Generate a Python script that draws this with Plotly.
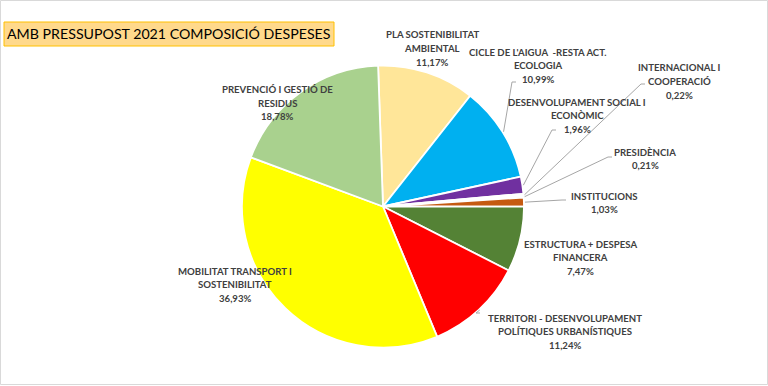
import math
import plotly.graph_objects as go

# ---- data ----
categories = [
    "PLA SOSTENIBILITAT AMBIENTAL",
    "CICLE DE L'AIGUA  -RESTA ACT. ECOLOGIA",
    "DESENVOLUPAMENT SOCIAL I ECONÒMIC",
    "INTERNACIONAL I COOPERACIÓ",
    "PRESIDÈNCIA",
    "INSTITUCIONS",
    "ESTRUCTURA + DESPESA FINANCERA",
    "TERRITORI - DESENVOLUPAMENT POLÍTIQUES URBANÍSTIQUES",
    "MOBILITAT TRANSPORT I SOSTENIBILITAT",
    "PREVENCIÓ I GESTIÓ DE RESIDUS",
]
label_lines = [
    ["PLA SOSTENIBILITAT", "AMBIENTAL"],
    ["CICLE DE L'AIGUA  -RESTA ACT.", "ECOLOGIA"],
    ["DESENVOLUPAMENT SOCIAL I", "ECONÒMIC"],
    ["INTERNACIONAL I", "COOPERACIÓ"],
    ["PRESIDÈNCIA"],
    ["INSTITUCIONS"],
    ["ESTRUCTURA + DESPESA", "FINANCERA"],
    ["TERRITORI - DESENVOLUPAMENT", "POLÍTIQUES URBANÍSTIQUES"],
    ["MOBILITAT TRANSPORT I", "SOSTENIBILITAT"],
    ["PREVENCIÓ I GESTIÓ DE", "RESIDUS"],
]
values = [11.17, 10.99, 1.96, 0.22, 0.21, 1.03, 7.47, 11.24, 36.93, 18.78]
title_text = "AMB PRESSUPOST 2021 COMPOSICIÓ DESPESES"

# ---- style / layout ----
W, H = 768, 386
colors = ["#FFE699", "#00B0F0", "#7030A0", "#F2F2F2", "#F2F2F2",
          "#C55A11", "#548235", "#FF0000", "#FFFF00", "#A9D18E"]
CX, CY, R = 383, 206.5, 141
ROT = -2  # degrees
# label centre x, first line y (pixels)
label_pos = [
    (432, 35), (538, 52), (577, 102), (679, 68), (645, 152),
    (604, 196), (580, 244), (565, 318), (235, 271), (277, 90),
]
# leader line: label-side start (pixels), or None
leader_start = [
    None, (516, 82), (556, 130), (645, 84), (612, 157),
    (566, 200), None, (480, 313), None, None,
]
LINE_H = 13.5
FONT = "Lato"
TXT = "#404040"


def px(x):
    return x / W


def py(y):
    return 1 - y / H


fig = go.Figure(go.Pie(
    labels=categories,
    values=values,
    sort=False,
    direction="clockwise",
    rotation=ROT,
    marker=dict(colors=colors, line=dict(color="white", width=1.8)),
    textinfo="none",
    hoverinfo="label+percent",
    showlegend=False,
    domain=dict(x=[px(CX - R), px(CX + R)], y=[py(CY + R), py(CY - R)]),
))

annotations = []
shapes = []
total = sum(values)
cum = 0.0
for i, v in enumerate(values):
    mid = (cum + v / 2) / total * 2 * math.pi + math.radians(ROT)
    cum += v
    lx, ly = label_pos[i]
    pct = f"{v:.2f}".replace(".", ",") + "%"
    for j, line in enumerate(label_lines[i] + [pct]):
        annotations.append(dict(
            x=px(lx), y=py(ly + j * LINE_H), xref="paper", yref="paper",
            text=f"<b>{line}</b>", showarrow=False,
            xanchor="center", yanchor="middle",
            font=dict(family=FONT, size=9.6, color=TXT),
        ))
    if leader_start[i] is not None:
        ex = CX + R * math.sin(mid)
        ey = CY - R * math.cos(mid)
        sx, sy = leader_start[i]
        shapes.append(dict(
            type="path", xref="paper", yref="paper",
            path=f"M {px(sx)},{py(sy)} L {px(sx-4)},{py(sy)} L {px(ex+1)},{py(ey)}",
            line=dict(color="#A6A6A6", width=1),
        ))

# title box
shapes.append(dict(type="rect", xref="paper", yref="paper",
                   x0=px(4), x1=px(334), y0=py(46), y1=py(22),
                   fillcolor="#FFD98C", line=dict(color="#FFC000", width=1)))
annotations.append(dict(x=px(169), y=py(34), xref="paper", yref="paper",
                        text=title_text, showarrow=False,
                        xanchor="center", yanchor="middle",
                        font=dict(family=FONT, size=14.2, color="#000000")))
# chart border
shapes.append(dict(type="rect", xref="paper", yref="paper",
                   x0=px(0.5), x1=px(767.5), y0=py(384.5), y1=py(0.5),
                   line=dict(color="#D9D9D9", width=1)))

fig.update_layout(
    width=W, height=H,
    margin=dict(l=0, r=0, t=0, b=0),
    paper_bgcolor="white", plot_bgcolor="white",
    shapes=shapes, annotations=annotations,
)
fig.write_html(
    "out.html",
    config={"displayModeBar": False},
    post_script="document.body.style.margin='0';document.body.style.overflow='hidden';",
)
